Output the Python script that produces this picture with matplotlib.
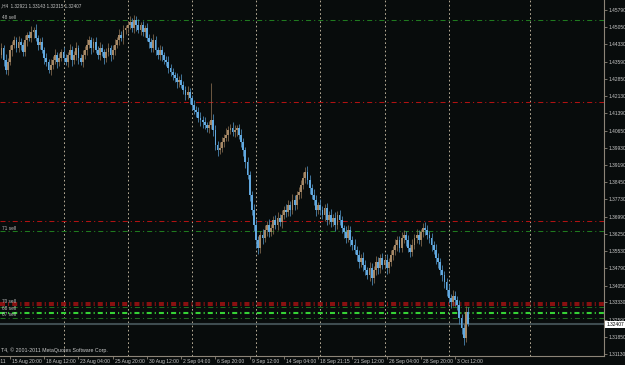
import matplotlib
matplotlib.use("Agg")
import matplotlib.pyplot as plt
from matplotlib.transforms import blended_transform_factory

# ---------------- data ----------------
first_bar_index = -5
first_open = 1.4375
closes = [
    1.4387, 1.4417, 1.4366, 1.4323, 1.4358,
    1.4409, 1.4430, 1.4451, 1.4417, 1.4443,
    1.4430, 1.4400, 1.4451, 1.4472, 1.4460,
    1.4485, 1.4494, 1.4460, 1.4430, 1.4443,
    1.4409, 1.4375, 1.4358, 1.4323, 1.4345,
    1.4366, 1.4387, 1.4358, 1.4375, 1.4400,
    1.4375, 1.4358, 1.4387, 1.4409, 1.4366,
    1.4387, 1.4417, 1.4375, 1.4358, 1.4387,
    1.4409, 1.4430, 1.4451, 1.4417, 1.4443,
    1.4409, 1.4387, 1.4417, 1.4400, 1.4375,
    1.4400, 1.4417, 1.4387, 1.4409, 1.4430,
    1.4451, 1.4472, 1.4460, 1.4494, 1.4502,
    1.4515, 1.4528, 1.4502, 1.4536, 1.4515,
    1.4494, 1.4515, 1.4485, 1.4502, 1.4460,
    1.4443, 1.4417, 1.4451, 1.4409, 1.4387,
    1.4409, 1.4387, 1.4366, 1.4358, 1.4332,
    1.4315, 1.4302, 1.4289, 1.4272, 1.4281,
    1.4260, 1.4238, 1.4217, 1.4230, 1.4204,
    1.4174, 1.4153, 1.4145, 1.4119, 1.4110,
    1.4102, 1.4089, 1.4076, 1.4089, 1.4110,
    1.4068, 1.4004, 1.3983, 1.3991, 1.4017,
    1.4034, 1.4047, 1.4068, 1.4076, 1.4059,
    1.4068, 1.4076, 1.4047, 1.4017, 1.3983,
    1.3932, 1.3876, 1.3791, 1.3727, 1.3663,
    1.3599, 1.3565, 1.3621, 1.3608, 1.3642,
    1.3663, 1.3633, 1.3650, 1.3684, 1.3663,
    1.3693, 1.3676, 1.3706, 1.3727, 1.3719,
    1.3748, 1.3727, 1.3770, 1.3748, 1.3791,
    1.3804, 1.3834, 1.3863, 1.3889, 1.3855,
    1.3821, 1.3791, 1.3770, 1.3727, 1.3748,
    1.3727, 1.3706, 1.3736, 1.3684, 1.3706,
    1.3676, 1.3693, 1.3663, 1.3706, 1.3684,
    1.3650, 1.3633, 1.3608, 1.3642, 1.3599,
    1.3578, 1.3557, 1.3535, 1.3506, 1.3523,
    1.3493, 1.3471, 1.3450, 1.3480, 1.3437,
    1.3471, 1.3506, 1.3480, 1.3523, 1.3493,
    1.3514, 1.3480, 1.3506, 1.3535, 1.3557,
    1.3578, 1.3599, 1.3565, 1.3608, 1.3621,
    1.3599, 1.3565, 1.3548, 1.3578, 1.3608,
    1.3621, 1.3599, 1.3633, 1.3650, 1.3642,
    1.3621, 1.3608, 1.3578, 1.3557, 1.3523,
    1.3506, 1.3471, 1.3450, 1.3420, 1.3386,
    1.3352, 1.3335, 1.3361, 1.3344, 1.3322,
    1.3267, 1.3224, 1.3182, 1.32921, 1.32407,
]
up_wick_pips = [
    14, 20, 12, 25, 16, 22, 15, 18, 12, 26,
    17, 12, 21, 15, 19, 24, 14, 27, 12, 16,
    19, 14, 22, 12, 24, 17, 26, 15, 19, 12,
    21, 16, 12, 24, 15, 19, 27, 12, 17, 21,
    15, 24, 19, 12, 17, 21, 15, 26, 19, 12,
    17, 21, 15, 19, 24, 12, 27, 17, 21, 15,
    19, 24, 15, 21, 17, 27, 15, 19, 12, 21,
    17, 15, 24, 19, 12, 21, 17, 15, 19, 24,
    15, 19, 12, 21, 17, 24, 15, 19, 27, 17,
    12, 21, 15, 19, 24, 17, 21, 12, 19, 160,
    24, 19, 15, 27, 21, 17, 30, 15, 19, 24,
    21, 15, 19, 24, 17, 12, 21, 19, 15, 24,
    27, 19, 17, 24, 21, 15, 26, 19, 17, 21,
    24, 17, 19, 15, 27, 21, 17, 24, 19, 15,
    21, 19, 26, 22, 24, 21, 17, 27, 19, 15,
    24, 19, 17, 21, 15, 26, 19, 24, 17, 21,
    19, 15, 24, 21, 17, 19, 26, 15, 21, 17,
    24, 19, 15, 27, 21, 17, 24, 19, 15, 21,
    19, 26, 17, 21, 15, 24, 19, 17, 27, 21,
    15, 21, 19, 24, 17, 26, 19, 15, 21, 24,
    19, 17, 21, 15, 24, 19, 17, 21, 15, 19,
    24, 17, 27, 19, 15, 21, 19, 17, 24, 22,
]
dn_wick_pips = [
    19, 14, 27, 17, 21, 12, 24, 15, 19, 17,
    21, 15, 19, 26, 12, 17, 24, 15, 21, 19,
    15, 27, 19, 12, 21, 17, 15, 24, 19, 15,
    19, 12, 21, 17, 26, 15, 19, 24, 12, 21,
    17, 21, 15, 24, 19, 12, 17, 21, 15, 26,
    19, 15, 24, 17, 21, 15, 19, 12, 24, 17,
    21, 17, 15, 19, 24, 15, 21, 17, 19, 12,
    24, 19, 15, 21, 17, 19, 24, 15, 17, 21,
    17, 21, 15, 24, 19, 15, 17, 21, 19, 24,
    19, 15, 21, 17, 24, 27, 19, 15, 21, 19,
    24, 21, 27, 19, 17, 21, 15, 24, 19, 17,
    19, 24, 17, 21, 27, 24, 19, 27, 21, 26,
    32, 27, 21, 24, 19, 26, 21, 17, 24, 19,
    21, 19, 24, 17, 21, 19, 24, 17, 21, 15,
    19, 24, 17, 21, 19, 24, 17, 21, 26, 19,
    21, 17, 24, 19, 15, 21, 19, 24, 17, 21,
    19, 24, 21, 17, 26, 21, 19, 27, 24, 21,
    24, 21, 19, 26, 30, 21, 19, 24, 21, 17,
    19, 24, 21, 17, 19, 21, 24, 19, 17, 21,
    24, 19, 21, 17, 19, 21, 17, 24, 19, 21,
    19, 21, 24, 19, 27, 24, 21, 26, 24, 27,
    21, 24, 19, 26, 21, 27, 24, 30, 19, 9,
]

y_tick_values = [1.45790, 1.45050, 1.44330, 1.43590, 1.42850, 1.42130, 1.41390,
                 1.40650, 1.39930, 1.39190, 1.38450, 1.37730, 1.36990, 1.36250,
                 1.35530, 1.34790, 1.34050, 1.33330, 1.32590, 1.31850, 1.31130]
x_tick_bars = [-16, 0, 16, 32, 48, 64, 80, 96, 112, 128, 144, 160, 176, 192, 208]
x_tick_labels = ["11 Aug 2011", "15 Aug 20:00", "18 Aug 12:00", "23 Aug 04:00",
                 "25 Aug 20:00", "30 Aug 12:00", "2 Sep 04:00", "6 Sep 20:00",
                 "9 Sep 12:00", "14 Sep 04:00", "18 Sep 21:15", "21 Sep 12:00",
                 "26 Sep 04:00", "28 Sep 20:00", "3 Oct 12:00"]
separator_bars = [25, 55, 85, 115, 145, 175, 205, 243]

level_prices = [1.4537, 1.4187, 1.3680, 1.3637, 1.3331, 1.3323, 1.3314, 1.3290, 1.3267]
level_colors = ["#1f7a1f", "#b01212", "#b01212", "#1f7a1f", "#b01212", "#b01212",
                "#1f6e1f", "#36d236", "#1f6e1f"]
level_widths = [0.75, 0.75, 0.75, 0.75, 1.1, 1.1, 0.75, 1.5, 0.75]
level_label_texts = ["48 sell", "71 sell", "70 sell", "68 sell", "67 sell"]
level_label_prices = [1.4547, 1.3647, 1.3338, 1.3306, 1.3282]

last_price = 1.32407
header_text = ",H4  1.32921 1.33143 1.32315 1.32407"
footer_text = "T4, \u00a9 2001-2011 MetaQuotes Software Corp."

# ---------------- style ----------------
BG = "#080c0c"
BULL = "#a58866"
BEAR = "#62a9e0"
BULL_WICK = "#7d654b"
BEAR_WICK = "#4a85b2"
TXT = "#c8c8c8"
AXC = "#8c8478"
PIP = 0.0001
FONT = "Liberation Sans"

W, H = 625, 365
fig = plt.figure(figsize=(W / 100, H / 100), dpi=100, facecolor=BG)
plot_right = 604
plot_bottom = 356
ax = fig.add_axes([0, (H - plot_bottom) / H, plot_right / W, plot_bottom / H])
ax.set_facecolor(BG)
plt.rcParams["lines.scale_dashes"] = False

px_per_bar = 2.14
x0_px = 10.0

# separators
for b in separator_bars:
    ax.axvline(b, color="#b8ae98", lw=0.7, dashes=(1.2, 1.8), zorder=1)

# horizontal levels
for p, c, w in zip(level_prices, level_colors, level_widths):
    ln = ax.axhline(p, color=c, lw=w, zorder=2)
    ln.set_dashes((3.6, 2.2, 0.8, 2.2))

# current price line
ax.axhline(last_price, color="#3e4c50", lw=1.5, zorder=2)

# candles
opens = [first_open] + closes[:-1]
for k, (o, c) in enumerate(zip(opens, closes)):
    i = first_bar_index + k
    top = max(o, c)
    bot = min(o, c)
    bull = c >= o
    col = BULL if bull else BEAR
    wcol = BULL_WICK if bull else BEAR_WICK
    hi = top + up_wick_pips[k] * PIP
    lo = bot - dn_wick_pips[k] * PIP
    ax.vlines(i, lo, hi, color=wcol, lw=0.6, zorder=3)
    h = max(top - bot, 0.0003)
    ax.bar(i, h, bottom=bot, width=0.85, color=col, lw=0, zorder=4)

# axes styling
for s in ["top", "left"]:
    ax.spines[s].set_visible(False)
ax.spines["right"].set_color(AXC)
ax.spines["bottom"].set_color(AXC)
ax.spines["right"].set_linewidth(0.8)
ax.spines["bottom"].set_linewidth(0.8)
ax.yaxis.tick_right()
ax.set_yticks(y_tick_values)
ax.set_yticklabels([f"{v:.5f}" for v in y_tick_values])
ax.tick_params(axis="y", colors=AXC, labelcolor=TXT, labelsize=3.5, length=2,
               width=0.6, pad=1.0, direction="out")
for lab in ax.get_yticklabels():
    lab.set_fontfamily(FONT)
ax.set_xticks(x_tick_bars)
ax.set_xticklabels([])
ax.tick_params(axis="x", colors=AXC, length=2, width=0.6, direction="out")

# limits (after ticks so that ticks do not widen them)
ax.set_xlim((0 - x0_px) / px_per_bar, (plot_right - x0_px) / px_per_bar)
ax.set_ylim(1.31050, 1.46216)

trans = blended_transform_factory(ax.transData, ax.transAxes)
for b, t in zip(x_tick_bars, x_tick_labels):
    ax.text(b + 0.9, -0.008, t, transform=trans, ha="left", va="top",
            fontsize=3.6, color=TXT, family=FONT, clip_on=False)

# level labels
tl = blended_transform_factory(ax.transAxes, ax.transData)
for t, p in zip(level_label_texts, level_label_prices):
    ax.text(0.003, p, t, transform=tl, ha="left", va="center", fontsize=3.4,
            color="#c0c0c0", family=FONT, zorder=5)

# last price tag
ax.text(1.004, last_price, f"{last_price:.5f}", transform=tl, ha="left", va="center",
        fontsize=3.5, color="#000000", family=FONT, clip_on=False, zorder=6,
        bbox=dict(boxstyle="square,pad=0.2", fc="#ffffff", ec="#ffffff", lw=0))

fig.text(1 / W, 1 - 6 / H, header_text, ha="left", va="center", fontsize=3.3,
         color=TXT, family=FONT)
fig.text(1 / W, 1 - 350 / H, footer_text, ha="left", va="center", fontsize=3.8,
         color=TXT, family=FONT)

fig.savefig("out.png", dpi=100, facecolor=BG)
